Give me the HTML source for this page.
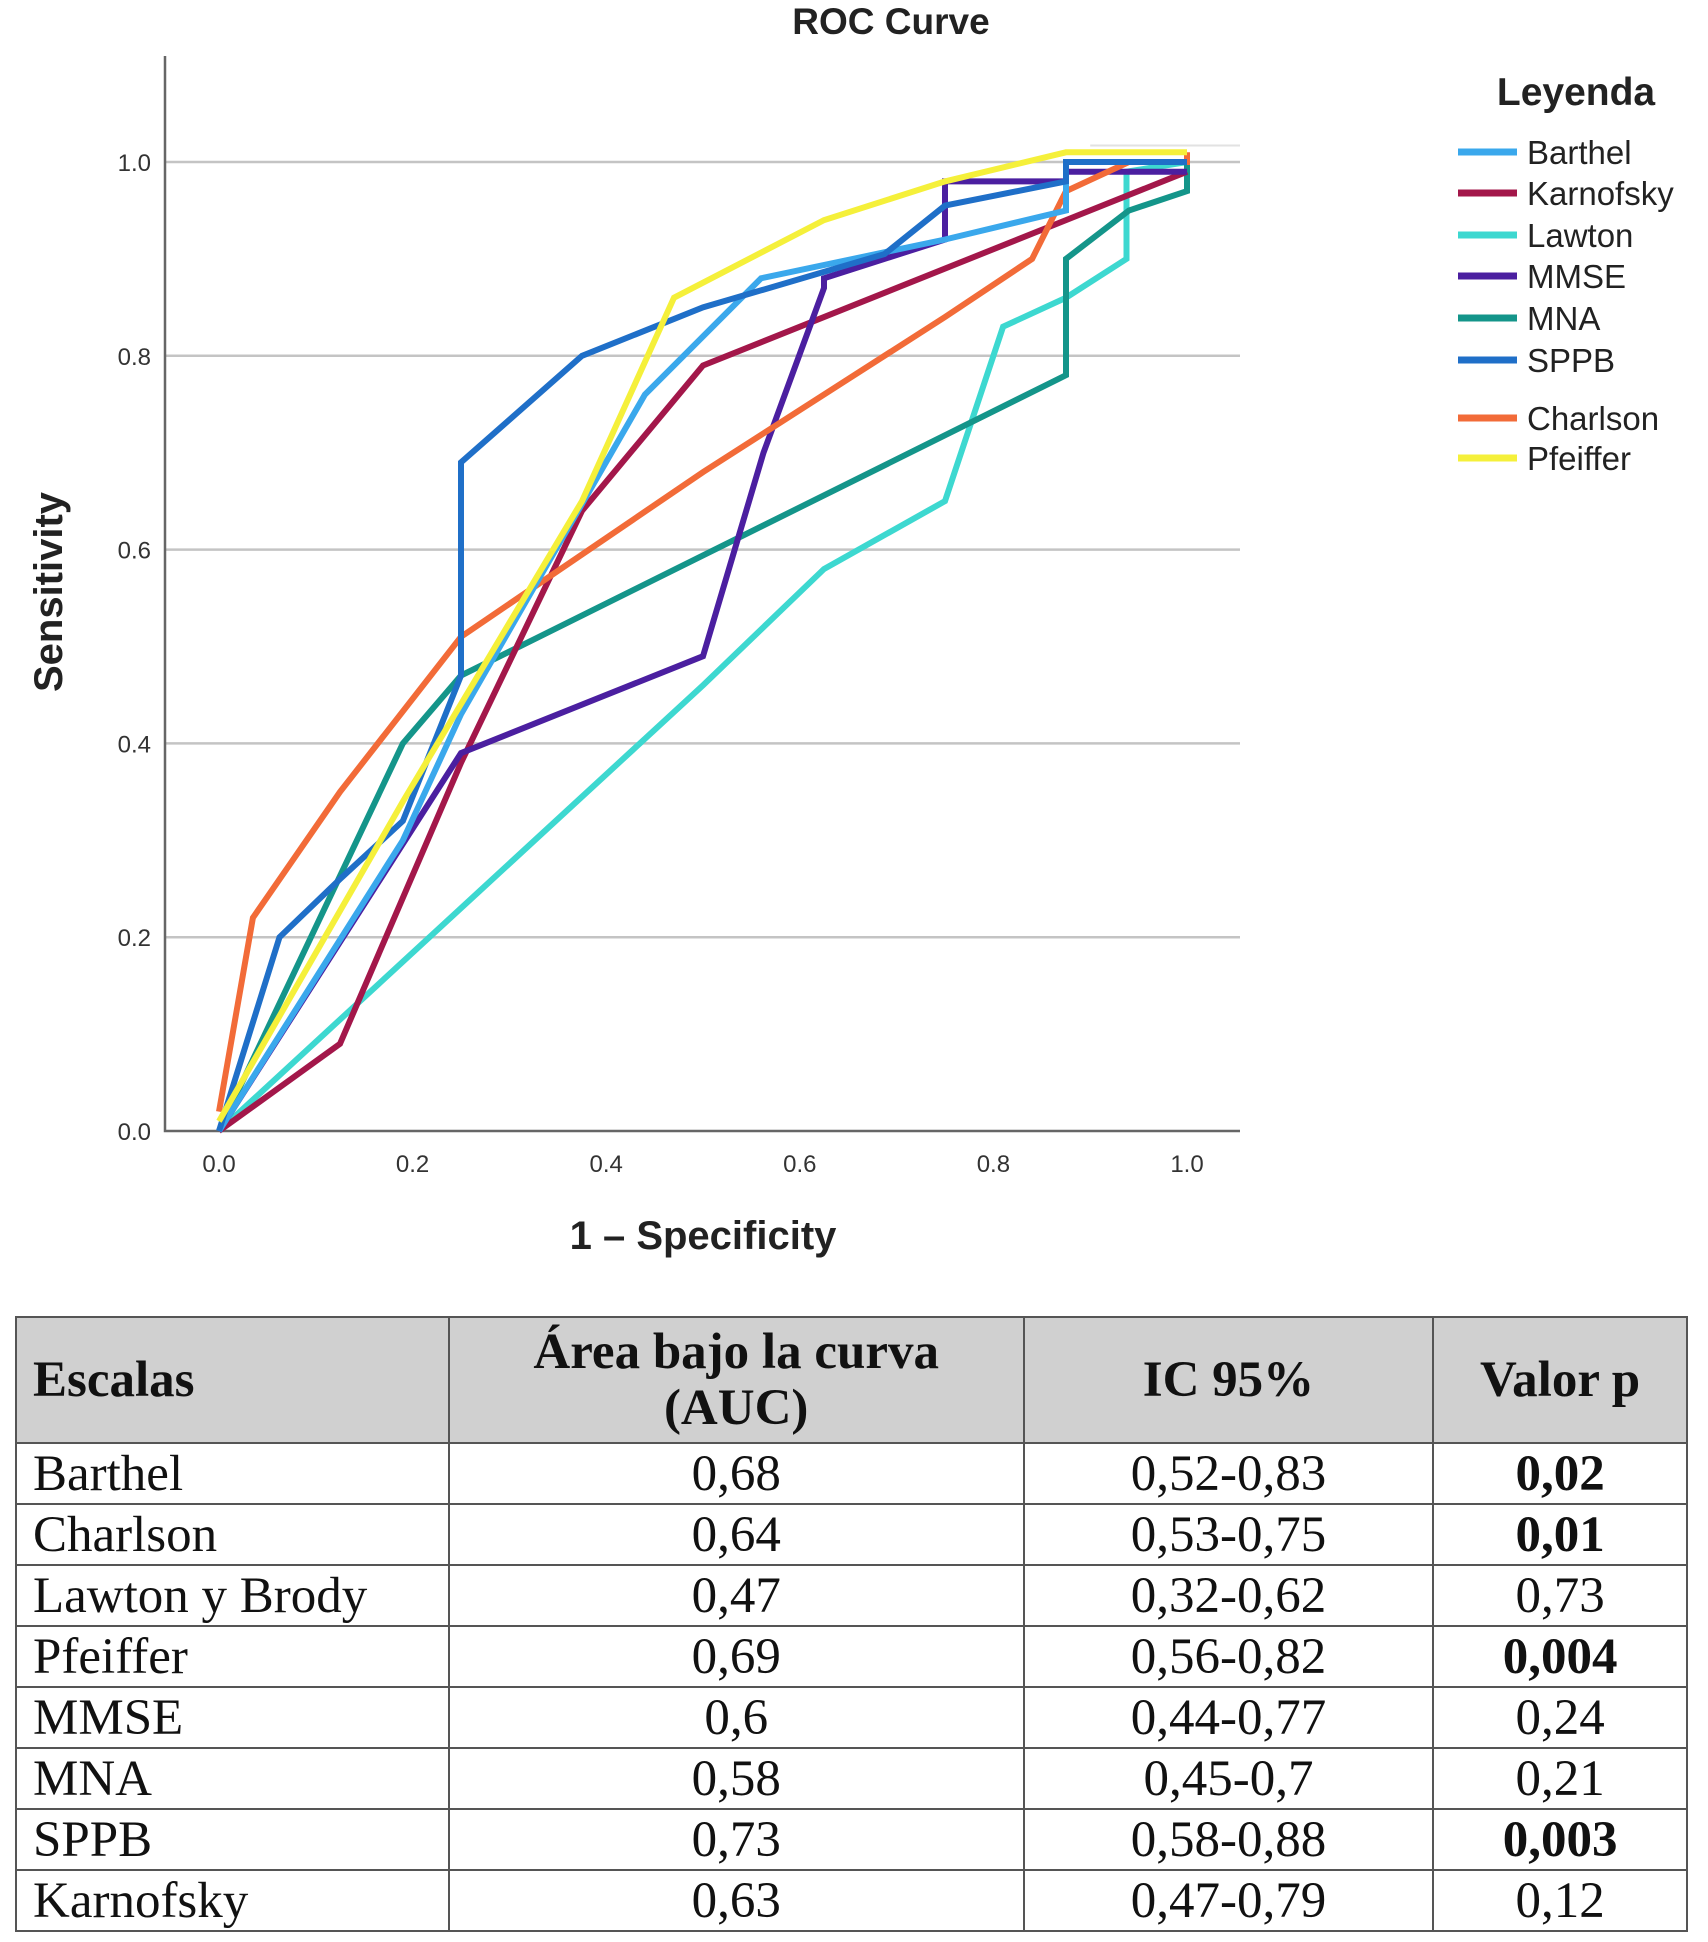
<!DOCTYPE html>
<html><head><meta charset="utf-8">
<style>
body{margin:0;background:#fff;width:1708px;height:1942px;overflow:hidden;position:relative;font-family:"Liberation Sans",sans-serif}
svg{position:absolute;left:0;top:0}
table{position:absolute;left:15px;top:1316px;width:1673px;border-collapse:collapse;font-family:"Liberation Serif",serif;font-size:51px;color:#111}
td,th{border:2px solid #555;padding:0 16px;height:59px;line-height:56px}
th{background:#d0d0d0;height:124px;line-height:56px;font-weight:bold}
td.c,th.c{text-align:center}
td.l,th.l{text-align:left}
.b{font-weight:bold}
</style></head><body>
<svg id="chart" width="1708" height="1300"></svg>
<table>
<colgroup><col style="width:433px"><col style="width:576px"><col style="width:410px"><col style="width:254px"></colgroup>
<tr><th class="l">Escalas</th><th class="c">Área bajo la curva<br>(AUC)</th><th class="c">IC 95%</th><th class="c">Valor p</th></tr>
<tr><td class="l">Barthel</td><td class="c">0,68</td><td class="c">0,52-0,83</td><td class="c b">0,02</td></tr>
<tr><td class="l">Charlson</td><td class="c">0,64</td><td class="c">0,53-0,75</td><td class="c b">0,01</td></tr>
<tr><td class="l">Lawton y Brody</td><td class="c">0,47</td><td class="c">0,32-0,62</td><td class="c">0,73</td></tr>
<tr><td class="l">Pfeiffer</td><td class="c">0,69</td><td class="c">0,56-0,82</td><td class="c b">0,004</td></tr>
<tr><td class="l">MMSE</td><td class="c">0,6</td><td class="c">0,44-0,77</td><td class="c">0,24</td></tr>
<tr><td class="l">MNA</td><td class="c">0,58</td><td class="c">0,45-0,7</td><td class="c">0,21</td></tr>
<tr><td class="l">SPPB</td><td class="c">0,73</td><td class="c">0,58-0,88</td><td class="c b">0,003</td></tr>
<tr><td class="l">Karnofsky</td><td class="c">0,63</td><td class="c">0,47-0,79</td><td class="c">0,12</td></tr>
</table>
<script>
const ticks=[0,0.2,0.4,0.6,0.8,1.0];
const tickLabels=["0.0","0.2","0.4","0.6","0.8","1.0"];
const seriesNames=["Barthel","Karnofsky","Lawton","MMSE","MNA","SPPB","Charlson","Pfeiffer"];
const seriesColors=["#3aa8ec","#a3174a","#3dd8d0","#4b1fa0","#14958a","#1f6fc8","#f26b38","#f5f03a"];
const barthelX=[0,0.19,0.25,0.44,0.56,0.75,0.875,0.875,1];
const barthelY=[0,0.3,0.43,0.76,0.88,0.92,0.95,1.0,1.0];
const karnofskyX=[0,0.125,0.25,0.375,0.5,0.875,1];
const karnofskyY=[0,0.09,0.38,0.64,0.79,0.94,0.99];
const lawtonX=[0,0.5,0.625,0.75,0.81,0.875,0.9375,0.9375,1];
const lawtonY=[0,0.46,0.58,0.65,0.83,0.86,0.9,0.99,1.0];
const mmseX=[0,0.25,0.5,0.5625,0.625,0.625,0.75,0.75,0.875,0.875,1];
const mmseY=[0,0.39,0.49,0.7,0.87,0.88,0.92,0.98,0.98,0.99,0.99];
const mnaX=[0,0.19,0.25,0.875,0.875,0.94,1,1];
const mnaY=[0,0.4,0.47,0.78,0.9,0.95,0.97,1.0];
const sppbX=[0,0.0625,0.125,0.19,0.25,0.25,0.375,0.5,0.6875,0.75,0.875,0.875,1];
const sppbY=[0,0.2,0.26,0.32,0.47,0.69,0.8,0.85,0.905,0.955,0.98,1.0,1.0];
const charlsonX=[0,0.035,0.125,0.25,0.5,0.75,0.84,0.875,0.94,1,1];
const charlsonY=[0.02,0.22,0.35,0.51,0.68,0.84,0.9,0.97,1.0,1.0,1.01];
const pfeifferX=[0,0.19,0.375,0.47,0.625,0.75,0.875,1];
const pfeifferY=[0.01,0.34,0.65,0.86,0.94,0.98,1.01,1.01];
const allX=[barthelX,karnofskyX,lawtonX,mmseX,mnaX,sppbX,charlsonX,pfeifferX];
const allY=[barthelY,karnofskyY,lawtonY,mmseY,mnaY,sppbY,charlsonY,pfeifferY];

const svg=document.getElementById('chart');
const NS='http://www.w3.org/2000/svg';
const X0=219,X1=1187,Y0=1131,Y1=162;
const sx=v=>X0+(X1-X0)*v, sy=v=>Y0-(Y0-Y1)*v;
function mk(t,a,txt){const e=document.createElementNS(NS,t);for(const k in a)e.setAttribute(k,a[k]);if(txt!=null)e.textContent=txt;svg.appendChild(e);return e;}
let e;
e=mk('text',{x:891,y:34,'text-anchor':'middle','font-size':37,'font-weight':'bold',fill:'#222'},'ROC Curve');


ticks.forEach((t,i)=>{
 if(t>0){e=mk('line',{x1:165,x2:1240,y1:sy(t),y2:sy(t),stroke:'#c4c4c4','stroke-width':2.5});
 
 }
 e=mk('text',{x:151,y:sy(t)+9,'text-anchor':'end','font-size':24,fill:'#333'},tickLabels[i]);
 
 
 e=mk('text',{x:sx(t),y:1172,'text-anchor':'middle','font-size':24,fill:'#333'},tickLabels[i]);
 
 
});
e=mk('line',{x1:sx(0.9),x2:1240,y1:sy(1.017),y2:sy(1.017),stroke:'#e2e2e2','stroke-width':2});


e=mk('path',{d:'M165 56 V1131 H1240',fill:'none',stroke:'#666','stroke-width':2.5});


e=mk('text',{x:703,y:1249,'text-anchor':'middle','font-size':40,'font-weight':'bold',fill:'#222'},'1 – Specificity');


e=mk('text',{x:0,y:0,'text-anchor':'middle','font-size':40,'font-weight':'bold',fill:'#222',transform:'translate(62,592) rotate(-90)'},'Sensitivity');


const order=[2,4,1,3,6,0,5,7];
order.forEach(i=>{
 const d=allX[i].map((x,j)=>(j?'L':'M')+sx(x).toFixed(1)+' '+sy(allY[i][j]).toFixed(1)).join(' ');
 e=mk('path',{d:d,fill:'none',stroke:seriesColors[i],'stroke-width':6,'stroke-linejoin':'miter'});
 
 
});
e=mk('text',{x:1576,y:105,'text-anchor':'middle','font-size':39,'font-weight':'bold',fill:'#222'},'Leyenda');


const ly=[152,193,235,276,318,360,418,458];
seriesNames.forEach((n,i)=>{
 e=mk('line',{x1:1458,x2:1517,y1:ly[i],y2:ly[i],stroke:seriesColors[i],'stroke-width':7});
 
 
 e=mk('text',{x:1527,y:ly[i]+12,'font-size':33,fill:'#222'},n);
 
 
});
</script>
</body></html>
